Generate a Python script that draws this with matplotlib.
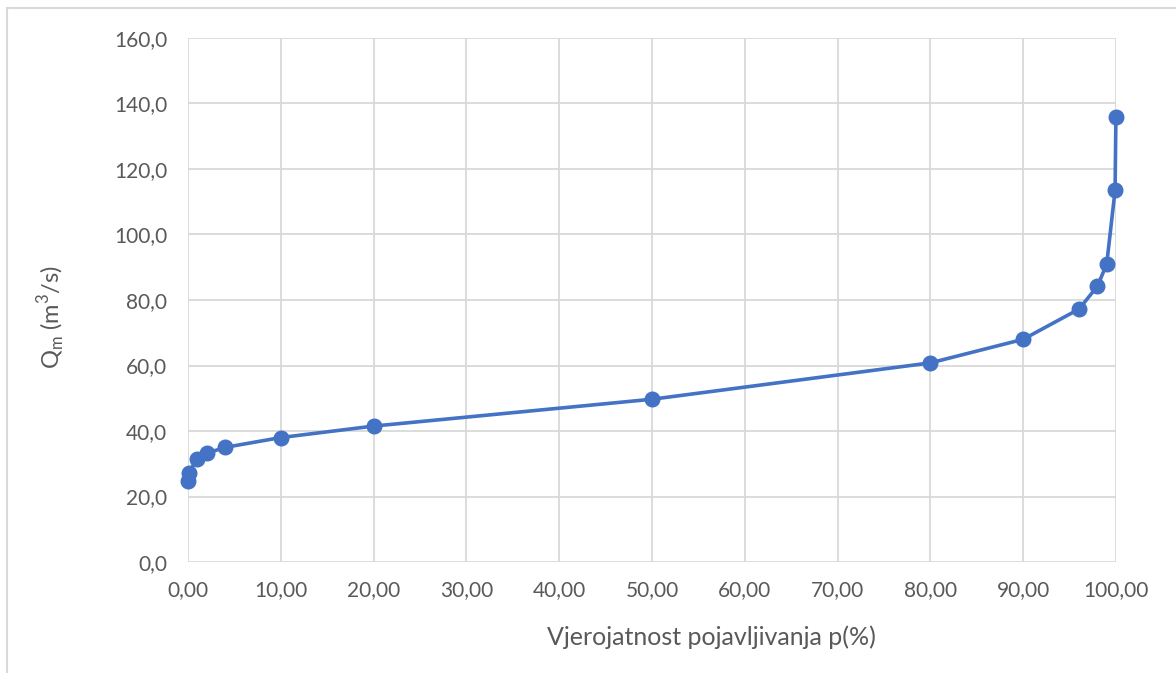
import matplotlib
matplotlib.use("Agg")
import matplotlib.pyplot as plt
from matplotlib.patches import Rectangle
from matplotlib.ticker import FuncFormatter, MultipleLocator

p_values = [0.01, 0.1, 1, 2, 4, 10, 20, 50, 80, 90, 96, 98, 99, 99.9, 99.99]
q_values = [24.7, 27.3, 31.6, 33.2, 35.0, 38.0, 41.5, 49.7, 60.8, 68.0, 77.2, 84.2, 91.0, 113.5, 135.8]

x_label = "Vjerojatnost pojavljivanja p(%)"
y_label = r"Q$_\mathregular{m}$ (m$^\mathregular{3}$/s)"

plt.rcParams['font.family'] = ['Lato', 'DejaVu Sans']

fig = plt.figure(figsize=(11.76, 6.73), dpi=100)
# outer chart frame (top and left edges visible, extends past right/bottom)
fig.patches.append(Rectangle((7/1176, -10/673), 1.1, (673-8+10)/673, transform=fig.transFigure,
                             fill=False, edgecolor='#d9d9d9', linewidth=1.5))
ax = fig.add_axes([188/1176, (673-562)/673, (1116-188)/1176, (562-38)/673])

ax.plot(p_values, q_values, color='#4472C4', linewidth=2.6, marker='o', markersize=10.5,
        markerfacecolor='#4472C4', markeredgecolor='#4472C4', zorder=3, clip_on=False)

ax.set_xlim(0, 100)
ax.set_ylim(0, 160)
ax.xaxis.set_major_locator(MultipleLocator(10))
ax.yaxis.set_major_locator(MultipleLocator(20))
ax.xaxis.set_major_formatter(FuncFormatter(lambda v, pos: f"{v:.2f}".replace('.', ',')))
ax.yaxis.set_major_formatter(FuncFormatter(lambda v, pos: f"{v:.1f}".replace('.', ',')))
ax.grid(True, color='#d9d9d9', linewidth=1.3)
ax.set_axisbelow(True)
for s in ax.spines.values():
    s.set_visible(False)
ax.tick_params(length=0, labelsize=15, colors='#595959')
ax.tick_params(axis='y', pad=15)
ax.tick_params(axis='x', pad=13)

ax.set_xlabel(x_label, fontsize=18, color='#595959', labelpad=18)
ax.xaxis.label.set_x(0.564)
ax.set_ylabel(y_label, fontsize=17, color='#595959', labelpad=33)
ax.yaxis.label.set_y(0.468)

fig.savefig("out.png", dpi=100, facecolor='white')
